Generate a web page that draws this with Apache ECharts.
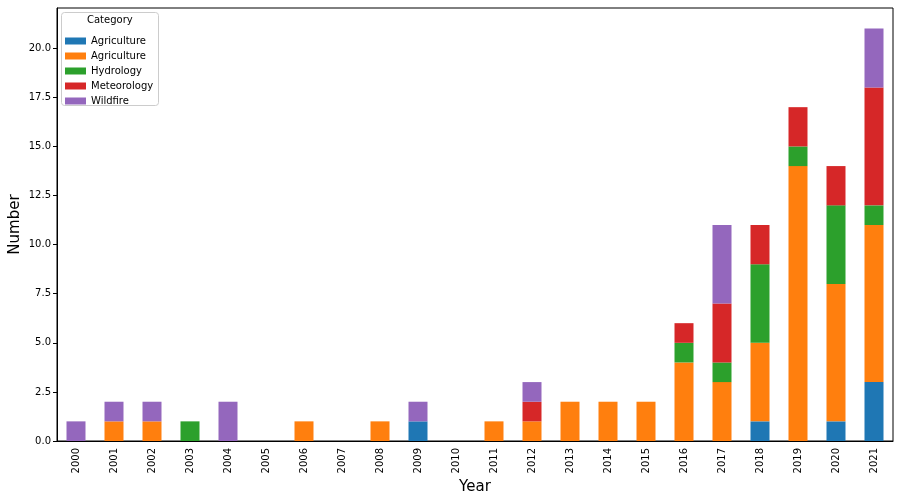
<!DOCTYPE html>
<html>
<head>
<meta charset="utf-8">
<script src="https://cdn.jsdelivr.net/npm/echarts@6/dist/echarts.min.js"></script>
<style>
  html, body { margin: 0; padding: 0; background: #fff; }
  #chart { width: 899px; height: 500px; }
</style>
</head>
<body>
<div id="chart"></div>
<script>
// data
var years = ['2000', '2001', '2002', '2003', '2004', '2005', '2006', '2007', '2008', '2009', '2010',
             '2011', '2012', '2013', '2014', '2015', '2016', '2017', '2018', '2019', '2020', '2021'];
var agricultureA = [0, 0, 0, 0, 0, 0, 0, 0, 0, 1, 0, 0, 0, 0, 0, 0, 0, 0, 1, 0, 1, 3];
var agricultureB = [0, 1, 1, 0, 0, 0, 1, 0, 1, 0, 0, 1, 1, 2, 2, 2, 4, 3, 4, 14, 7, 8];
var hydrology    = [0, 0, 0, 1, 0, 0, 0, 0, 0, 0, 0, 0, 0, 0, 0, 0, 1, 1, 4, 1, 4, 1];
var meteorology  = [0, 0, 0, 0, 0, 0, 0, 0, 0, 0, 0, 0, 1, 0, 0, 0, 1, 3, 2, 2, 2, 6];
var wildfire     = [1, 1, 1, 0, 2, 0, 0, 0, 0, 1, 0, 0, 1, 0, 0, 0, 0, 4, 0, 0, 0, 3];

var font = 'DejaVu Sans';

function barSeries(name, data, color) {
    return {
        name: name,
        type: 'bar',
        stack: 'total',
        barWidth: '50%',
        data: data,
        itemStyle: { color: color },
        emphasis: { disabled: true }
    };
}

var chart = echarts.init(document.getElementById('chart'));
var option = {
    animation: false,
    textStyle: { fontFamily: font },
    grid: {
        left: 57, right: 6, top: 8, bottom: 59,
        outerBoundsMode: 'none',
        containLabel: false,
        show: true, borderColor: '#000', borderWidth: 1
    },
    legend: {
        left: 60, top: 31,
        orient: 'vertical',
        itemWidth: 21, itemHeight: 7, itemGap: 5,
        icon: 'rect',
        textStyle: { fontFamily: font, fontSize: 10, color: '#000', padding: [0, 0, 0, 0] },
        formatter: function (name) { return name.trim(); },
        data: ['Agriculture', 'Agriculture ', 'Hydrology', 'Meteorology', 'Wildfire']
    },
    graphic: [
        {
            type: 'rect', left: 61, top: 12, z: 0,
            shape: { width: 97, height: 93, r: 3 },
            style: { fill: 'rgba(255,255,255,0.8)', stroke: '#ccc', lineWidth: 1 }
        },
        {
            type: 'text', left: 87, top: 15, z: 1,
            style: { text: 'Category', font: '10px "DejaVu Sans"', fill: '#000' }
        }
    ],
    xAxis: {
        type: 'category',
        data: years,
        name: 'Year',
        nameLocation: 'middle',
        nameGap: 39,
        nameMoveOverlap: false,
        nameTextStyle: { fontSize: 15, color: '#000' },
        axisLine: { lineStyle: { color: '#000' } },
        axisTick: { alignWithLabel: true, length: 4, lineStyle: { color: '#000' } },
        axisLabel: { rotate: 90, fontSize: 10, color: '#000', margin: 7 }
    },
    yAxis: {
        type: 'value',
        min: 0,
        max: 22.05,
        interval: 2.5,
        name: 'Number',
        nameLocation: 'middle',
        nameGap: 34,
        nameMoveOverlap: false,
        nameTextStyle: { fontSize: 15, color: '#000' },
        splitLine: { show: false },
        axisLine: { show: true, lineStyle: { color: '#000' } },
        axisTick: { show: true, length: 4, lineStyle: { color: '#000' } },
        axisLabel: {
            fontSize: 10, color: '#000', margin: 6,
            showMaxLabel: false,
            formatter: function (v) { return v.toFixed(1); }
        }
    },
    series: [
        barSeries('Agriculture', agricultureA, '#1f77b4'),
        barSeries('Agriculture ', agricultureB, '#ff7f0e'),
        barSeries('Hydrology', hydrology, '#2ca02c'),
        barSeries('Meteorology', meteorology, '#d62728'),
        barSeries('Wildfire', wildfire, '#9467bd')
    ]
};
chart.setOption(option);
</script>
</body>
</html>
